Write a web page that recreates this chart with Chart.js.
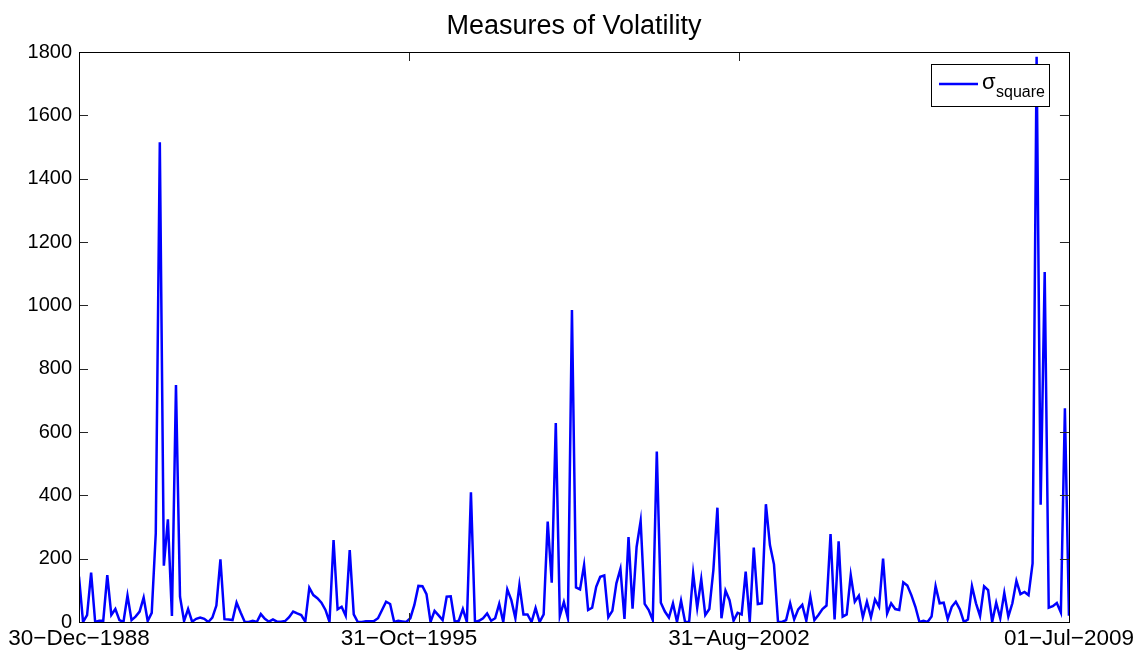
<!DOCTYPE html>
<html>
<head>
<meta charset="utf-8">
<title>Measures of Volatility</title>
<script src="https://cdn.jsdelivr.net/npm/chart.js@4.4.1/dist/chart.umd.min.js"></script>
<style>
    html, body { margin: 0; padding: 0; background: #fff; }
    #wrap { width: 1137px; height: 654px; }
</style>
</head>
<body>
<div id="wrap"><canvas id="volChart" width="1137" height="654"></canvas></div>
<script>
/**
 * Measures of Volatility — monthly sigma^2 line, MATLAB look
 */

var titleText = 'Measures of Volatility';
var xTickLabels = ['30\u2212Dec\u22121988', '31\u2212Oct\u22121995', '31\u2212Aug\u22122002', '01\u2212Jul\u22122009'];
var yTicks = [0, 200, 400, 600, 800, 1000, 1200, 1400, 1600, 1800];
var legendSymbol = '\u03c3';
var legendSub = 'square';

// values, one per month
var sigmaSquare = [
    143, 0, 22, 156, 0, 4, 4, 148, 22, 41,
    6, 0, 84, 6, 17, 33, 77, 3, 29, 280,
    1515, 178, 324, 19, 748, 80, 3, 41, 1, 10,
    14, 10, 0, 14, 52, 198, 9, 8, 6, 61,
    30, 1, 0, 4, 0, 25, 10, 1, 8, 1,
    1, 3, 15, 33, 27, 22, 1, 108, 85, 75,
    61, 38, 0, 259, 40, 48, 20, 227, 24, 0,
    0, 2, 2, 3, 12, 38, 64, 57, 0, 4,
    2, 0, 12, 54, 114, 113, 88, 0, 35, 21,
    6, 80, 81, 0, 4, 41, 0, 410, 0, 4,
    12, 27, 4, 12, 57, 0, 103, 69, 12, 117,
    24, 24, 0, 44, 0, 24, 317, 124, 628, 19,
    63, 12, 985, 109, 103, 180, 38, 45, 111, 143,
    147, 15, 35, 122, 168, 10, 268, 42, 237, 319,
    57, 38, 6, 538, 61, 33, 14, 59, 0, 67,
    0, 0, 153, 45, 135, 22, 41, 164, 361, 12,
    99, 69, 4, 29, 24, 159, 0, 235, 57, 59,
    372, 243, 182, 0, 0, 6, 59, 8, 40, 54,
    4, 80, 6, 22, 41, 52, 278, 8, 255, 17,
    24, 148, 64, 83, 15, 64, 15, 71, 48, 200,
    27, 59, 41, 38, 125, 115, 85, 48, 0, 4,
    0, 17, 113, 59, 61, 9, 48, 64, 40, 0,
    8, 113, 59, 19, 113, 101, 0, 61, 12, 92,
    17, 59, 130, 88, 95, 85, 185, 1785, 370, 1105,
    45, 50, 60, 30, 675, 20
];

(function () {
    'use strict';

    var FONT = '"Liberation Sans", Arial, Helvetica, sans-serif';
    var last = sigmaSquare.length - 1;
    var xTickPos = xTickLabels.map(function (l, i) { return last * i / (xTickLabels.length - 1); });
    var points = sigmaSquare.map(function (v, i) { return { x: i, y: v }; });

    // title over the axes, box, inward ticks on all four sides, legend with subscript
    var matlabFrame = {
        id: 'matlabFrame',
        afterDatasetsDraw: function (chart) {
            var a = chart.chartArea;
            var ctx = chart.ctx;
            var xs = chart.scales.x;
            var ys = chart.scales.y;
            var tick = 9;

            ctx.save();
            ctx.fillStyle = '#000';
            ctx.font = '27px ' + FONT;
            ctx.textAlign = 'center';
            ctx.textBaseline = 'middle';
            ctx.fillText(titleText, (a.left + a.right) / 2, 27);

            ctx.strokeStyle = '#262626';
            ctx.lineWidth = 1;
            ctx.beginPath();
            yTicks.forEach(function (v) {
                var py = Math.round(ys.getPixelForValue(v)) + 0.5;
                ctx.moveTo(a.left, py); ctx.lineTo(a.left + tick, py);
                ctx.moveTo(a.right, py); ctx.lineTo(a.right - tick, py);
            });
            xTickPos.forEach(function (v) {
                var px = Math.round(xs.getPixelForValue(v)) + 0.5;
                ctx.moveTo(px, a.bottom); ctx.lineTo(px, a.bottom - tick);
                ctx.moveTo(px, a.top); ctx.lineTo(px, a.top + tick);
            });
            ctx.stroke();

            ctx.strokeStyle = '#000';
            ctx.strokeRect(Math.round(a.left) + 0.5, Math.round(a.top) + 0.5,
                Math.round(a.right - a.left), Math.round(a.bottom - a.top));

            // legend
            var lx = 931, ly = 64, lw = 118, lh = 42;
            ctx.fillStyle = '#fff';
            ctx.fillRect(lx, ly, lw, lh);
            ctx.strokeRect(lx + 0.5, ly + 0.5, lw, lh);
            ctx.strokeStyle = '#0000ff';
            ctx.lineWidth = 2.5;
            ctx.beginPath();
            ctx.moveTo(939, 84);
            ctx.lineTo(978, 84);
            ctx.stroke();
            ctx.fillStyle = '#000';
            ctx.textBaseline = 'alphabetic';
            ctx.textAlign = 'left';
            ctx.font = '22px ' + FONT;
            ctx.fillText(legendSymbol, 982, 89);
            ctx.font = '16px ' + FONT;
            ctx.fillText(legendSub, 996, 97);
            ctx.restore();
        }
    };

    new Chart(document.getElementById('volChart'), {
        type: 'line',
        data: {
            datasets: [{
                label: legendSymbol + legendSub,
                data: points,
                borderColor: '#0000ff',
                borderWidth: 2.5,
                pointRadius: 0,
                tension: 0,
                fill: false
            }]
        },
        options: {
            responsive: false,
            animation: false,
            layout: { padding: { left: 0, right: 67, top: 52, bottom: 0 } },
            plugins: {
                legend: { display: false },
                tooltip: { enabled: false },
                title: { display: false }
            },
            scales: {
                x: {
                    type: 'linear',
                    min: 0,
                    max: last,
                    border: { display: false },
                    grid: { display: false, drawTicks: false },
                    afterBuildTicks: function (scale) {
                        scale.ticks = xTickPos.map(function (v) { return { value: v }; });
                    },
                    afterFit: function (scale) { scale.height = 32; },
                    ticks: {
                        autoSkip: false,
                        maxRotation: 0,
                        padding: 3,
                        color: '#000',
                        font: { family: FONT, size: 22.5 },
                        callback: function (value, index) { return xTickLabels[index]; }
                    }
                },
                y: {
                    min: 0,
                    max: 1800,
                    border: { display: false },
                    grid: { display: false, drawTicks: false },
                    afterBuildTicks: function (scale) {
                        scale.ticks = yTicks.map(function (v) { return { value: v }; });
                    },
                    afterFit: function (scale) { scale.width = 79; },
                    ticks: {
                        padding: 7,
                        color: '#000',
                        font: { family: FONT, size: 20 },
                        callback: function (value) { return String(value); }
                    }
                }
            }
        },
        plugins: [matlabFrame]
    });
})();
</script>
</body>
</html>
